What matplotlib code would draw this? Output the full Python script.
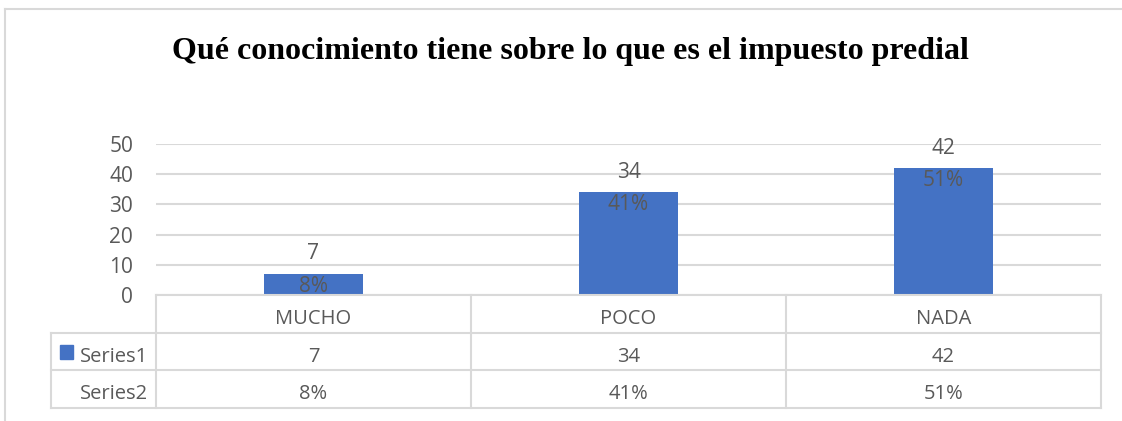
import matplotlib.pyplot as plt
from matplotlib.lines import Line2D
from matplotlib.patches import Rectangle

categorias = ['MUCHO', 'POCO', 'NADA']
series1 = [7, 34, 42]
series2 = ['8%', '41%', '51%']
nombres_series = ['Series1', 'Series2']
titulo = 'Qué conocimiento tiene sobre lo que es el impuesto predial'

AZUL = '#4472C4'
GRIS_TXT = '#595959'
GRIS_LIN = '#D9D9D9'
W, H = 1122, 421

fig = plt.figure(figsize=(W / 100, H / 100), dpi=100)
plt.rcParams['font.family'] = ['Open Sans', 'DejaVu Sans']


def px(x0, y0, x1, y1):
    # caja en pixeles (arriba-izquierda) -> coordenadas de figura
    return [x0 / W, 1 - y1 / H, (x1 - x0) / W, (y1 - y0) / H]


# marco exterior
fig.add_artist(Line2D([5 / W, 5 / W], [0, 1 - 9 / H], color=GRIS_LIN, lw=1.5))
fig.add_artist(Line2D([5 / W, 1], [1 - 9 / H, 1 - 9 / H], color=GRIS_LIN, lw=1.5))

fig.text(570 / W, 1 - 51 / H, titulo, ha='center', va='center',
         family='Liberation Serif', fontweight='bold', fontsize=23, color='black')

# grafico de barras
ax = fig.add_axes(px(156, 144, 1101, 295))
x = range(len(categorias))
bars = ax.bar(x, series1, width=0.317, color=AZUL, zorder=3)
ax.set_xlim(-0.5, len(categorias) - 0.5)
ax.set_ylim(0, 50)
ax.set_yticks(range(0, 51, 10))
ax.tick_params(axis='y', length=0, labelsize=15, labelcolor=GRIS_TXT, pad=16.5)
ax.set_xticks([])
ax.grid(axis='y', color=GRIS_LIN, lw=1.5, zorder=0)
for s in ax.spines.values():
    s.set_visible(False)

for b, v, p in zip(bars, series1, series2):
    cx = b.get_x() + b.get_width() / 2
    ax.annotate(str(v), (cx, v), xytext=(0, 14.5), textcoords='offset points',
                ha='center', va='center', fontsize=15, color=GRIS_TXT,
                annotation_clip=False)
    ax.annotate(p, (cx, v), xytext=(0, -9), textcoords='offset points',
                ha='center', va='center', fontsize=15, color=GRIS_TXT,
                annotation_clip=False, zorder=4)

# tabla de datos
tax = fig.add_axes(px(51, 295, 1101, 408))
n = len(categorias)
tax.set_xlim(-0.8333, n - 0.5)
tax.set_ylim(3, 0)
tax.axis('off')
kw = dict(color=GRIS_LIN, lw=1.5, clip_on=False)
tax.plot([-0.5, n - 0.5], [0, 0], **kw)
for r in (1, 2, 3):
    tax.plot([-0.8333, n - 0.5], [r, r], **kw)
tax.plot([-0.8333, -0.8333], [1, 3], **kw)
for c in range(n + 1):
    tax.plot([c - 0.5, c - 0.5], [0, 3], **kw)

fila = [categorias, [str(v) for v in series1], series2]
for r, valores in enumerate(fila):
    for c, t in enumerate(valores):
        tax.text(c, r + 0.64, t, ha='center', va='center', fontsize=14.5,
                 color=GRIS_TXT)
for r, nom in enumerate(nombres_series, start=1):
    tax.text(-0.525, r + 0.64, nom, ha='right', va='center', fontsize=14.5,
             color=GRIS_TXT)
tax.add_patch(Rectangle((-0.805, 1.33), 0.042, 0.36, color=AZUL, clip_on=False))

fig.savefig('out.png', dpi=100)
